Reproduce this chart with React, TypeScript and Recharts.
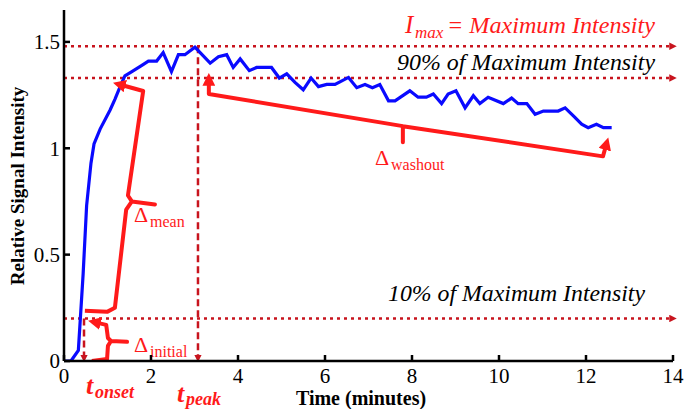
import { LineChart, Line, XAxis, YAxis, ReferenceLine } from 'recharts'

// enhancement curve
const timeMin = [
  0.02, 0.16, 0.33, 0.44, 0.52, 0.62, 0.69, 0.83, 1.06, 1.17, 1.29, 1.4, 1.56, 1.79, 1.94,
  2.13, 2.28, 2.47, 2.63, 2.78, 3.01, 3.36, 3.55, 3.74, 3.89, 4.05, 4.26, 4.43, 4.77, 4.95,
  5.12, 5.31, 5.5, 5.68, 5.85, 6.04, 6.23, 6.54, 6.73, 6.92, 7.09, 7.26, 7.46, 7.61, 7.95,
  8.14, 8.33, 8.49, 8.68, 8.83, 9.01, 9.22, 9.41, 9.56, 9.75, 10.1, 10.29, 10.44, 10.64,
  10.83, 11.02, 11.36, 11.52, 11.71, 11.9, 12.05, 12.24, 12.4, 12.59,
]
const intensity = [
  0, 0, 0.05, 0.41, 0.73, 0.93, 1.02, 1.09, 1.18, 1.23, 1.29, 1.34, 1.36, 1.39, 1.41,
  1.41, 1.45, 1.36, 1.44, 1.44, 1.475, 1.4, 1.43, 1.44, 1.38, 1.42, 1.365, 1.38, 1.38, 1.33,
  1.35, 1.31, 1.275, 1.33, 1.29, 1.3, 1.3, 1.333, 1.285, 1.3, 1.285, 1.3, 1.223, 1.223, 1.27,
  1.24, 1.24, 1.255, 1.21, 1.255, 1.27, 1.19, 1.247, 1.21, 1.24, 1.21, 1.236, 1.21, 1.21,
  1.16, 1.175, 1.175, 1.19, 1.152, 1.113, 1.097, 1.113, 1.097, 1.097,
]

const xTicks = [0, 2, 4, 6, 8, 10, 12, 14]
const yTicks = [0, 0.5, 1, 1.5]

const I_MAX = 1.48
const LEVEL_90 = 1.33
const LEVEL_10 = 0.2
const T_ONSET = 0.46
const T_PEAK = 3.08

// brace / arrow annotations in data units
const meanBraceX = [1.24, 1.82, 1.47, 1.56, 2.09, 1.56, 1.43, 1.17, 0.99, 0.48]
const meanBraceY = [1.302, 1.269, 0.778, 0.75, 0.736, 0.75, 0.712, 0.25, 0.231, 0.236]
const initialBraceX = [0.67, 0.97, 1.01, 1.08, 1.45, 1.08, 1.01, 0.99, 0.64]
const initialBraceY = [0.184, 0.17, 0.108, 0.094, 0.09, 0.094, 0.071, 0.009, 0.0]
const washoutBraceX = [3.33, 3.33, 7.79, 7.79, 7.79, 12.39, 12.48]
const washoutBraceY = [1.33, 1.255, 1.104, 1.028, 1.104, 0.962, 1.028]

const zip = (xs: number[], ys: number[]) => xs.map((x, i) => ({ x, y: ys[i] }))

const curve = zip(timeMin, intensity)
const meanBrace = zip(meanBraceX, meanBraceY)
const initialBrace = zip(initialBraceX, initialBraceY)
const washoutBrace = zip(washoutBraceX, washoutBraceY)

const SERIF = 'Liberation Serif'
const RED = '#ff1a1a'
const DARK_RED = '#c8141e'

const axisLine = { stroke: '#000', strokeWidth: 2.5 }
const tickStyle = { fontFamily: SERIF, fontSize: 21, fill: '#000', style: { fontFamily: SERIF } }

type TxtProps = {
  x: number
  y: number
  size: number
  color?: string
  italic?: boolean
  bold?: boolean
  anchor?: 'start' | 'middle' | 'end'
  width?: number
  transform?: string
  children: string
}

function Txt({ x, y, size, color = '#000', italic, bold, anchor = 'start', width, transform, children }: TxtProps) {
  return (
    <text
      x={x}
      y={y}
      transform={transform}
      textAnchor={anchor}
      fill={color}
      textLength={width}
      lengthAdjust={width ? 'spacingAndGlyphs' : undefined}
      style={{
        fontFamily: SERIF,
        fontSize: size,
        fontStyle: italic ? 'italic' : 'normal',
        fontWeight: bold ? 'bold' : 'normal',
      }}
    >
      {children}
    </text>
  )
}

export default function App() {
  return (
    <div style={{ position: 'absolute', left: 0, top: 0, background: '#fff', fontFamily: SERIF }}>
      <LineChart width={694} height={409} margin={{ top: 10, right: 21, bottom: 0, left: 0 }} style={{ fontFamily: SERIF }}>
        <defs>
          <marker id="arrRed" viewBox="0 0 10 10" refX="6" refY="5" markerWidth="3.2" markerHeight="3.2" orient="auto-start-reverse">
            <path d="M0,0 L10,5 L0,10 z" fill={RED} />
          </marker>
          <marker id="arrDark" viewBox="0 0 10 10" refX="5" refY="5" markerWidth="3" markerHeight="3" orient="auto">
            <path d="M0,0 L10,5 L0,10 z" fill={DARK_RED} />
          </marker>
        </defs>

        <XAxis
          type="number"
          dataKey="x"
          domain={[0, 14]}
          ticks={xTicks}
          allowDataOverflow
          height={48}
          axisLine={axisLine}
          tickLine={axisLine}
          tickSize={-6}
          tickMargin={13}
          tick={tickStyle}
        />
        <XAxis xAxisId="top" orientation="top" type="number" domain={[0, 14]} ticks={xTicks} height={0}
          axisLine={axisLine} tickLine={axisLine} tickSize={-6} tick={false} />
        <YAxis
          type="number"
          domain={[0, 1.65]}
          ticks={yTicks}
          allowDataOverflow
          width={64}
          axisLine={axisLine}
          tickLine={axisLine}
          tickSize={-6}
          tickMargin={10}
          tick={tickStyle}
        />
        <YAxis yAxisId="right" orientation="right" type="number" domain={[0, 1.65]} ticks={yTicks} width={0}
          axisLine={axisLine} tickLine={axisLine} tickSize={-6} tick={false} />

        <ReferenceLine y={I_MAX} stroke={DARK_RED} strokeWidth={2.5} strokeDasharray="3 4" markerEnd="url(#arrDark)" />
        <ReferenceLine y={LEVEL_90} stroke={DARK_RED} strokeWidth={2.5} strokeDasharray="3 4" markerEnd="url(#arrDark)" />
        <ReferenceLine y={LEVEL_10} stroke={DARK_RED} strokeWidth={2.5} strokeDasharray="3 4" markerEnd="url(#arrDark)" />
        <ReferenceLine segment={[{ x: T_ONSET, y: LEVEL_10 }, { x: T_ONSET, y: 0.012 }]} stroke={DARK_RED} strokeWidth={2.5} strokeDasharray="7 4" markerEnd="url(#arrDark)" />
        <ReferenceLine segment={[{ x: T_PEAK, y: I_MAX }, { x: T_PEAK, y: 0.012 }]} stroke={DARK_RED} strokeWidth={2.5} strokeDasharray="7 4" markerEnd="url(#arrDark)" />

        <Line data={curve} dataKey="y" type="linear" stroke="#0a0aff" strokeWidth={3.2} dot={false} activeDot={false} isAnimationActive={false} />

        <Line data={meanBrace} dataKey="y" type="linear" stroke={RED} strokeWidth={4} strokeLinejoin="round" dot={false} activeDot={false} isAnimationActive={false} markerStart="url(#arrRed)" />
        <Line data={initialBrace} dataKey="y" type="linear" stroke={RED} strokeWidth={4} strokeLinejoin="round" dot={false} activeDot={false} isAnimationActive={false} markerStart="url(#arrRed)" />
        <Line data={washoutBrace} dataKey="y" type="linear" stroke={RED} strokeWidth={4} strokeLinejoin="round" dot={false} activeDot={false} isAnimationActive={false} markerStart="url(#arrRed)" markerEnd="url(#arrRed)" />

        {/* level labels */}
        <Txt x={405} y={33} size={25} italic color={RED}>I</Txt>
        <Txt x={415} y={38} size={17} italic color={RED}>max</Txt>
        <Txt x={447} y={33} size={23} italic color={RED} width={208}>= Maximum Intensity</Txt>
        <Txt x={397} y={70} size={23} italic width={258}>90% of Maximum Intensity</Txt>
        <Txt x={388} y={301} size={23} italic width={257}>10% of Maximum Intensity</Txt>

        {/* delta labels */}
        <Txt x={134} y={222} size={22} color={RED}>Δ</Txt>
        <Txt x={150} y={227} size={16} color={RED}>mean</Txt>
        <Txt x={134} y={352} size={22} color={RED}>Δ</Txt>
        <Txt x={150} y={357} size={16} color={RED}>initial</Txt>
        <Txt x={375} y={165} size={22} color={RED}>Δ</Txt>
        <Txt x={391} y={170} size={16} color={RED}>washout</Txt>

        {/* time markers */}
        <Txt x={86} y={394} size={26} italic bold color={RED}>t</Txt>
        <Txt x={95} y={398} size={18} italic bold color={RED}>onset</Txt>
        <Txt x={177} y={402} size={26} italic bold color={RED}>t</Txt>
        <Txt x={186} y={405} size={18} italic bold color={RED}>peak</Txt>

        {/* axis titles */}
        <Txt x={361} y={405} size={20} bold anchor="middle">Time (minutes)</Txt>
        <Txt x={0} y={0} size={19} bold anchor="middle" transform="translate(24,186) rotate(-90)">Relative Signal Intensity</Txt>
      </LineChart>
    </div>
  )
}
